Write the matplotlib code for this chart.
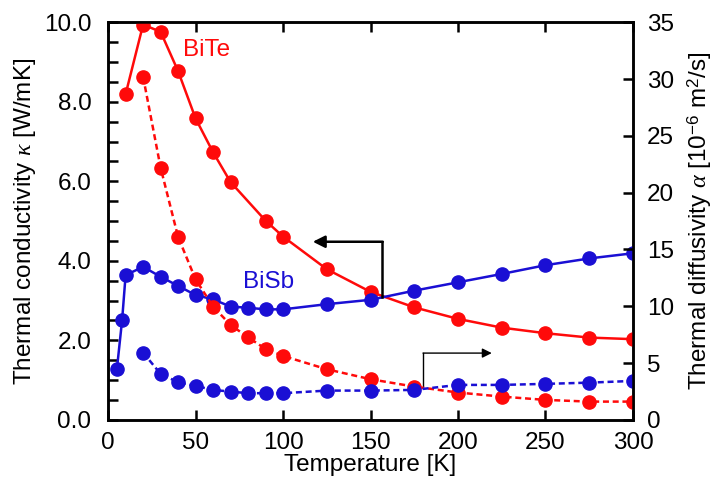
import numpy as np
import matplotlib.pyplot as plt
from matplotlib.ticker import MultipleLocator, FormatStrFormatter

plt.rcParams['font.family'] = ['Liberation Sans', 'DejaVu Sans']
plt.rcParams['mathtext.fontset'] = 'custom'
plt.rcParams['mathtext.rm'] = 'Liberation Sans'
plt.rcParams['mathtext.it'] = 'Liberation Serif:italic'

RED = '#ff0a0a'
BLUE = '#1a0fd4'
FS = 17.5

# thermal conductivity [W/mK], left axis
T_bite_k = [10, 20, 30, 40, 50, 60, 70, 90, 100, 125, 150, 175, 200, 225, 250, 275, 300]
k_bite = [8.19, 9.94, 9.76, 8.77, 7.58, 6.73, 5.98, 5.01, 4.61, 3.79, 3.22, 2.83, 2.54, 2.32, 2.18, 2.07, 2.03]

T_bisb_k = [5, 8, 10, 20, 30, 40, 50, 60, 70, 80, 90, 100, 125, 150, 175, 200, 225, 250, 275, 300]
k_bisb = [1.27, 2.51, 3.64, 3.85, 3.60, 3.37, 3.14, 3.03, 2.85, 2.82, 2.78, 2.78, 2.91, 3.02, 3.25, 3.46,
          3.67, 3.89, 4.06, 4.19]

# thermal diffusivity [1e-6 m2/s], right axis
T_a = [20, 30, 40, 50, 60, 70, 80, 90, 100, 125, 150, 175, 200, 225, 250, 275, 300]
a_bite = [30.2, 22.2, 16.1, 12.37, 9.97, 8.36, 7.27, 6.24, 5.63, 4.46, 3.58, 2.93, 2.41, 2.05, 1.76, 1.61, 1.61]
a_bisb = [5.92, 4.05, 3.31, 2.99, 2.64, 2.49, 2.35, 2.35, 2.35, 2.58, 2.58, 2.64, 3.08, 3.08, 3.17, 3.28, 3.43]

fig = plt.figure(figsize=(7.16, 4.94), dpi=100)
ax = fig.add_axes([0.151, 0.150, 0.733, 0.805])
ax2 = ax.twinx()

mk = dict(marker='o', markersize=9.5, lw=1.8)
ax.plot(T_bite_k, k_bite, color=RED, **mk, zorder=3)
ax.plot(T_bisb_k, k_bisb, color=BLUE, **mk, zorder=3)
ax2.plot(T_a, a_bite, color=RED, ls=(0, (2.4, 1.5)), **mk)
ax2.plot(T_a, a_bisb, color=BLUE, ls=(0, (2.4, 1.5)), **mk)

ax.set_xlim(0, 300)
ax.set_ylim(0, 10)
ax2.set_ylim(0, 35)

ax.xaxis.set_major_locator(MultipleLocator(50))
ax.yaxis.set_major_locator(MultipleLocator(2))
ax.yaxis.set_minor_locator(MultipleLocator(0.5))
ax.yaxis.set_major_formatter(FormatStrFormatter('%.1f'))
ax2.yaxis.set_major_locator(MultipleLocator(5))

ax.tick_params(axis='x', direction='in', top=True, length=7, width=1.8, labelsize=FS, pad=9)
ax.tick_params(axis='y', which='both', direction='in', length=7, width=1.8, labelsize=FS, pad=12)
ax2.tick_params(axis='y', direction='in', length=7, width=1.8, labelsize=FS, pad=10)
for a in (ax, ax2):
    for s in a.spines.values():
        s.set_linewidth(1.8)

ax.set_xlabel('Temperature [K]', fontsize=FS, labelpad=0)
ax.set_ylabel(r'Thermal conductivity $\mathit{\kappa}$ [W/mK]', fontsize=FS, labelpad=4)
ax2.set_ylabel(r'Thermal diffusivity $\mathit{\alpha}$ [10$^{-6}$ m$^{2}$/s]', fontsize=FS, labelpad=8)

ax.text(56, 9.3, 'BiTe', color=RED, fontsize=FS, ha='center', va='center')
ax.text(91.5, 3.47, 'BiSb', color=BLUE, fontsize=FS, ha='center', va='center')

# arrows pointing to the axis each group belongs to
ax.plot([156.4, 156.4], [3.10, 4.48], color='black', lw=1.8, zorder=4)
ax.annotate('', xy=(117, 4.48), xytext=(157, 4.48),
            arrowprops=dict(arrowstyle='-|>', color='black', lw=1.8, mutation_scale=18,
                            shrinkA=0, shrinkB=0), zorder=4)
ax.plot([180, 180], [0.84, 1.68], color='black', lw=1.0, zorder=4)
ax.annotate('', xy=(219.3, 1.68), xytext=(180, 1.68),
            arrowprops=dict(arrowstyle='-|>', color='black', lw=1.0, mutation_scale=14,
                            shrinkA=0, shrinkB=0), zorder=4)

fig.savefig('out.png', dpi=100)
